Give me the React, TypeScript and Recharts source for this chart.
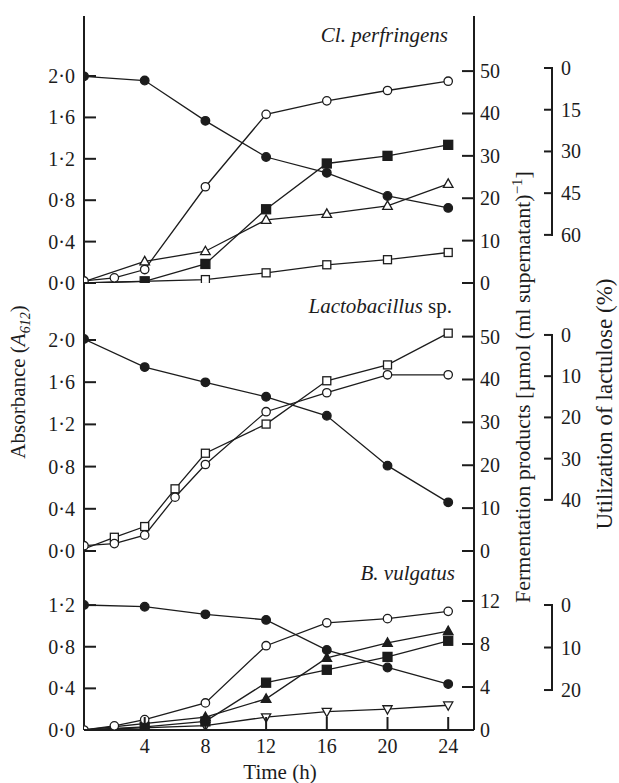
import React from "react";
import { LineChart, Line, XAxis, YAxis } from "recharts";

const W = 619;
const H = 783;
const FONT = '"Liberation Serif", "Times New Roman", serif';
const INK = "#1c1c1c";

// ---- Cl. perfringens ----
const cpAbsT = [0, 2, 4, 8, 12, 16, 20, 24];
const cpAbs = [0.02, 0.05, 0.13, 0.93, 1.63, 1.76, 1.86, 1.95];
const cpUtilT = [0, 4, 8, 12, 16, 20, 24];
const cpUtil = [3, 4.5, 19, 32, 37.7, 46, 50.3];
const cpFsT = [0, 4, 8, 12, 16, 20, 24];
const cpFs = [0, 0.4, 4.5, 17.4, 28.2, 30.0, 32.6];
const cpTriT = [0, 4, 8, 12, 16, 20, 24];
const cpTri = [0.3, 5.1, 7.5, 14.9, 16.3, 18.2, 23.4];
const cpOsT = [0, 8, 12, 16, 20, 24];
const cpOs = [0, 0.8, 2.4, 4.3, 5.5, 7.2];

// ---- Lactobacillus sp. ----
const lbAbsT = [0, 2, 4, 6, 8, 12, 16, 20, 24];
const lbAbs = [0.05, 0.07, 0.15, 0.51, 0.82, 1.32, 1.5, 1.67, 1.67];
const lbUtilT = [0, 4, 8, 12, 16, 20, 24];
const lbUtil = [1, 7.8, 11.5, 15, 19.6, 31.7, 40.6];
const lbOsT = [0, 2, 4, 6, 8, 12, 16, 20, 24];
const lbOs = [0.5, 3.2, 5.7, 14.5, 22.8, 29.6, 39.7, 43.4, 50.8];

// ---- B. vulgatus ----
const bvAbsT = [0, 2, 4, 8, 12, 16, 20, 24];
const bvAbs = [0, 0.04, 0.1, 0.26, 0.81, 1.03, 1.07, 1.14];
const bvUtilT = [0, 4, 8, 12, 16, 20, 24];
const bvUtil = [0, 0.4, 2.2, 3.5, 10.6, 14.7, 18.6];
const bvFsT = [0, 4, 8, 12, 16, 20, 24];
const bvFs = [0, 0.3, 0.8, 4.4, 5.6, 6.8, 8.3];
const bvFtT = [0, 8, 12, 16, 20, 24];
const bvFt = [0, 1.2, 2.9, 6.7, 8.1, 9.2];
const bvOtT = [0, 8, 12, 16, 20, 24];
const bvOt = [0, 0.4, 1.2, 1.7, 1.95, 2.3];

const timeTicks = [4, 8, 12, 16, 20, 24];

const zip = (t: number[], v: number[]) => t.map((x, i) => ({ t: x, v: v[i] }));
const fmt = (v: number) => v.toFixed(1).replace(".", "\u00b7");

type Series = { data: { t: number; v: number }[]; axis: string; mark: string; skipFirst?: boolean };

const panels = [
  {
    name: "cp", top: 16, bottom: 283, xh: 0, labels: false, frameTop: true,
    absDomain: [0, 2.58], absTicks: [0, 0.4, 0.8, 1.2, 1.6, 2.0],
    fermDomain: [0, 63], fermTicks: [0, 10, 20, 30, 40, 50],
    utilDomain: [-18.7, 77.3], utilTicks: [0, 15, 30, 45, 60],
    series: [
      { data: zip(cpOsT, cpOs), axis: "ferm", mark: "os", skipFirst: true },
      { data: zip(cpTriT, cpTri), axis: "ferm", mark: "ot", skipFirst: true },
      { data: zip(cpFsT, cpFs), axis: "ferm", mark: "fs", skipFirst: true },
      { data: zip(cpUtilT, cpUtil), axis: "util", mark: "fc" },
      { data: zip(cpAbsT, cpAbs), axis: "abs", mark: "oc" },
    ] as Series[],
  },
  {
    name: "lb", top: 283, bottom: 551, xh: 0, labels: false, frameTop: false,
    absDomain: [0, 2.54], absTicks: [0, 0.4, 0.8, 1.2, 1.6, 2.0],
    fermDomain: [0, 62.5], fermTicks: [0, 10, 20, 30, 40, 50],
    utilDomain: [-12.6, 52.4], utilTicks: [0, 10, 20, 30, 40],
    series: [
      { data: zip(lbOsT, lbOs), axis: "ferm", mark: "os", skipFirst: true },
      { data: zip(lbUtilT, lbUtil), axis: "util", mark: "fc" },
      { data: zip(lbAbsT, lbAbs), axis: "abs", mark: "oc" },
    ] as Series[],
  },
  {
    name: "bv", top: 551, bottom: 730, xh: 53, labels: true, frameTop: false,
    absDomain: [0, 1.72], absTicks: [0, 0.4, 0.8, 1.2],
    fermDomain: [0, 16.65], fermTicks: [0, 4, 8, 12],
    utilDomain: [-12.7, 29.4], utilTicks: [0, 10, 20],
    series: [
      { data: zip(bvOtT, bvOt), axis: "ferm", mark: "oti", skipFirst: true },
      { data: zip(bvFtT, bvFt), axis: "ferm", mark: "ft", skipFirst: true },
      { data: zip(bvFsT, bvFs), axis: "ferm", mark: "fs", skipFirst: true },
      { data: zip(bvUtilT, bvUtil), axis: "util", mark: "fc" },
      { data: zip(bvAbsT, bvAbs), axis: "abs", mark: "oc" },
    ] as Series[],
  },
];

function Marker({ cx, cy, mark }: { cx: number; cy: number; mark: string }) {
  const s = { stroke: INK, strokeWidth: 1.3 };
  switch (mark) {
    case "fc":
      return <circle cx={cx} cy={cy} r={4.3} fill={INK} {...s} />;
    case "oc":
      return <circle cx={cx} cy={cy} r={4.2} fill="#fff" {...s} />;
    case "fs":
      return <rect x={cx - 4.5} y={cy - 4.5} width={9} height={9} fill={INK} {...s} />;
    case "os":
      return <rect x={cx - 4} y={cy - 4} width={8} height={8} fill="#fff" {...s} />;
    case "ot":
      return <path d={`M${cx},${cy - 5} L${cx + 4.8},${cy + 3.5} L${cx - 4.8},${cy + 3.5}Z`} fill="#fff" {...s} />;
    case "ft":
      return <path d={`M${cx},${cy - 5} L${cx + 4.8},${cy + 3.5} L${cx - 4.8},${cy + 3.5}Z`} fill={INK} {...s} />;
    default:
      return <path d={`M${cx},${cy + 5} L${cx + 4.6},${cy - 3.3} L${cx - 4.6},${cy - 3.3}Z`} fill="#fff" {...s} />;
  }
}

const txt = { fontFamily: FONT, fill: INK };

function Panel({ p }: { p: (typeof panels)[number] }) {
  const plotH = p.bottom - p.top;
  const uStep = (plotH * (p.utilTicks[1] - p.utilTicks[0])) / (p.utilDomain[1] - p.utilDomain[0]);
  const uLast = p.utilTicks[p.utilTicks.length - 1];
  return (
    <div style={{ position: "absolute", left: 0, top: 0 }}>
      <LineChart width={W} height={H} margin={{ top: p.top, bottom: H - p.bottom - p.xh, left: 0, right: 0 }}>
        <XAxis
          xAxisId="x" dataKey="t" type="number" domain={[0, 25.7]} allowDataOverflow
          ticks={timeTicks} height={p.xh} tickLine={false} tickSize={0} tickMargin={0}
          axisLine={{ stroke: INK, strokeWidth: 2 }}
          tick={(t: any) => (
            <g>
              <line x1={t.x} x2={t.x} y1={t.y} y2={t.y - 13} stroke={INK} strokeWidth={2} />
              {p.labels && (
                <text x={t.x} y={t.y + 23} textAnchor="middle" fontSize={20} {...txt}>{t.payload.value}</text>
              )}
            </g>
          )}
        />
        {p.frameTop && (
          <XAxis xAxisId="top" orientation="top" type="number" domain={[0, 25.7]} height={0}
            tick={false} tickLine={false} axisLine={{ stroke: INK, strokeWidth: 2 }} />
        )}
        <YAxis
          yAxisId="abs" orientation="left" width={84} domain={p.absDomain} allowDataOverflow
          ticks={p.absTicks} tickLine={false} tickSize={0} tickMargin={0}
          axisLine={{ stroke: INK, strokeWidth: 2 }}
          tick={(t: any) => (
            <g>
              <line x1={t.x} x2={t.x + 12} y1={t.y} y2={t.y} stroke={INK} strokeWidth={2} />
              <text x={t.x - 9} y={t.y + 7} textAnchor="end" fontSize={20} {...txt}>{fmt(t.payload.value)}</text>
            </g>
          )}
        />
        <YAxis
          yAxisId="ferm" orientation="right" width={78} domain={p.fermDomain} allowDataOverflow
          ticks={p.fermTicks} tickLine={false} tickSize={0} tickMargin={0}
          axisLine={{ stroke: INK, strokeWidth: 2 }}
          tick={(t: any) => (
            <g>
              <line x1={t.x - 12} x2={t.x} y1={t.y} y2={t.y} stroke={INK} strokeWidth={2} />
              <text x={t.x + 6} y={t.y + 7} textAnchor="start" fontSize={20} {...txt}>{t.payload.value}</text>
            </g>
          )}
        />
        <YAxis
          yAxisId="util" orientation="right" width={67} domain={p.utilDomain} allowDataOverflow reversed
          ticks={p.utilTicks} tickLine={false} tickSize={0} tickMargin={0} axisLine={false}
          tick={(t: any) => (
            <g>
              <line x1={t.x - 8} x2={t.x} y1={t.y} y2={t.y} stroke={INK} strokeWidth={2} />
              {t.payload.value !== uLast && (
                <line x1={t.x} x2={t.x} y1={t.y - 1} y2={t.y + uStep + 1} stroke={INK} strokeWidth={2} />
              )}
              <text x={t.x + 9} y={t.y + 7} textAnchor="start" fontSize={20} {...txt}>{t.payload.value}</text>
            </g>
          )}
        />
        {p.series.map((s, si) => (
          <Line
            key={p.name + si}
            xAxisId="x" yAxisId={s.axis} data={s.data} dataKey="v" type="linear"
            stroke={INK} strokeWidth={1.3} isAnimationActive={false}
            dot={(d: any) =>
              s.skipFirst && d.index === 0 ? (
                <g key={d.index} />
              ) : (
                <Marker key={d.index} cx={d.cx} cy={d.cy} mark={s.mark} />
              )
            }
            activeDot={false}
          />
        ))}
      </LineChart>
    </div>
  );
}

export default function App() {
  return (
    <div style={{ position: "absolute", left: 0, top: 0, width: W, height: H, background: "#fff" }}>
      {panels.map((p) => (
        <Panel key={p.name} p={p} />
      ))}
      <svg width={W} height={H} style={{ position: "absolute", left: 0, top: 0, pointerEvents: "none" }}>
        <text x={448} y={42} textAnchor="end" fontSize={21} fontStyle="italic" {...txt}>Cl. perfringens</text>
        <text x={452} y={313} textAnchor="end" fontSize={21} {...txt}>
          <tspan fontStyle="italic">Lactobacillus</tspan> sp.
        </text>
        <text x={455} y={580} textAnchor="end" fontSize={21} fontStyle="italic" {...txt}>B. vulgatus</text>
        <text x={280} y={779} textAnchor="middle" fontSize={21} {...txt}>Time (h)</text>
        <text transform="translate(25,382) rotate(-90)" textAnchor="middle" fontSize={21} {...txt}>
          Absorbance (<tspan fontStyle="italic">A</tspan>
          <tspan fontSize={14} dy={5} fontStyle="italic">612</tspan>
          <tspan dy={-5}>)</tspan>
        </text>
        <text transform="translate(530,387) rotate(-90)" textAnchor="middle" fontSize={22} {...txt}>
          Fermentation products [{"\u00b5"}mol (ml supernatant)
          <tspan fontSize={15} dy={-8}>{"\u22121"}</tspan>
          <tspan dy={8}>]</tspan>
        </text>
        <text transform="translate(612,404) rotate(-90)" textAnchor="middle" fontSize={23} {...txt}>
          Utilization of lactulose (%)
        </text>
      </svg>
    </div>
  );
}
